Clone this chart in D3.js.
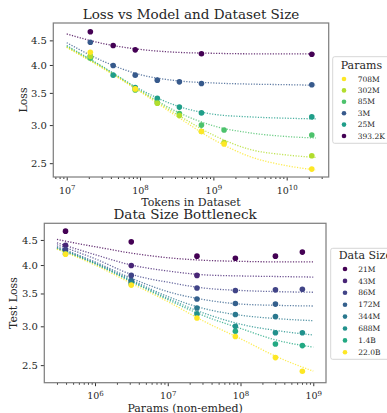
<!DOCTYPE html>
<html>
<head>
<meta charset="utf-8">
<script src="https://cdn.jsdelivr.net/npm/d3@7"></script>
<style>
  body { margin: 0; background: #fff; }
  svg { font-family: "DejaVu Serif", serif; }
</style>
</head>
<body>
<script>
// model sizes (non-embedding params) and dataset sizes (tokens)
const paramLabels = ['393.2K', '3M', '25M', '85M', '302M', '708M'];
const paramCounts = [393.2e3, 3.15e6, 25.2e6, 85e6, 302e6, 708e6];
const dataLabels = ['21M', '43M', '86M', '172M', '344M', '688M', '1.4B', '22.0B'];
const dataTokens = [21e6, 43e6, 86e6, 172e6, 344e6, 688e6, 1.4e9, 22e9];

// measured test loss: one row per dataset size, one column per model size (null = no run)
const lossRows = [
  [4.69, 4.46, 4.17, 4.13, 4.17, 4.25],
  [4.39, 3.99, 3.81, null, null, null],
  [4.30, 3.81, 3.59, 3.55, 3.56, 3.57],
  [null, 3.72, 3.41, 3.34, 3.33, null],
  [null, 3.69, 3.27, 3.17, 3.14, null],
  [4.22, 3.66, 3.18, 3.00, 2.91, 2.91],
  [null, null, null, 2.93, 2.76, 2.74],
  [4.21, 3.64, 3.12, 2.86, 2.59, 2.43]
];

// fitted curves, top panel: loss vs tokens, one row per model size
const fitTokens = [1e7, 3.16e7, 1e8, 3.16e8, 1e9, 3.16e9, 1e10, 2.5e10];
const fitLossByParams = [
  [4.64, 4.43, 4.31, 4.25, 4.23, 4.22, 4.22, 4.22],
  [4.45, 4.07, 3.82, 3.71, 3.67, 3.65, 3.64, 3.63],
  [4.39, 3.96, 3.56, 3.29, 3.16, 3.12, 3.10, 3.09],
  [4.37, 3.95, 3.54, 3.20, 2.99, 2.89, 2.84, 2.82],
  [4.36, 3.94, 3.53, 3.16, 2.86, 2.67, 2.60, 2.57],
  [4.35, 3.93, 3.52, 3.13, 2.80, 2.58, 2.47, 2.42]
];

// fitted curves, bottom panel: loss vs params, one row per dataset size
const fitParams = [3e5, 1e6, 3.16e6, 1e7, 3.16e7, 1e8, 3.16e8, 1e9];
const fitLossByData = [
  [4.51, 4.36, 4.23, 4.14, 4.09, 4.07, 4.06, 4.06],
  [4.44, 4.20, 4.00, 3.89, 3.82, 3.80, 3.79, 3.78],
  [4.40, 4.12, 3.83, 3.69, 3.59, 3.55, 3.53, 3.52],
  [4.36, 4.06, 3.76, 3.53, 3.40, 3.33, 3.31, 3.30],
  [4.34, 4.04, 3.73, 3.45, 3.26, 3.16, 3.11, 3.08],
  [4.33, 4.03, 3.71, 3.42, 3.19, 3.03, 2.94, 2.88],
  [4.32, 4.02, 3.70, 3.40, 3.15, 2.97, 2.81, 2.72],
  [4.31, 4.00, 3.67, 3.37, 3.07, 2.83, 2.60, 2.43]
];

const lossTicks = [2.5, 3.0, 3.5, 4.0, 4.5];
const tokenTicks = [1e7, 1e8, 1e9, 1e10];
const paramTicks = [1e6, 1e7, 1e8, 1e9];
const topLegendOrder = ['708M', '302M', '85M', '3M', '25M', '393.2K'];

const svg = d3.select('body').append('svg')
  .attr('width', 387)
  .attr('height', 413);

const paramColor = d3.scaleSequentialLog(d3.interpolateViridis)
  .domain([paramCounts[0], paramCounts[paramCounts.length - 1]]);
const dataColor = d3.scaleSequentialLog(d3.interpolateViridis)
  .domain([dataTokens[0], dataTokens[dataTokens.length - 1]]);

function drawPanel(o) {
  const x = d3.scaleLog().domain(o.xDomain).range([o.left, o.right]);
  const y = d3.scaleLog().domain(o.yDomain).range([o.bottom, o.top]);
  const g = svg.append('g');

  // minor ticks on the log x axis
  const minor = [];
  const e0 = Math.floor(Math.log10(o.xDomain[0]));
  const e1 = Math.ceil(Math.log10(o.xDomain[1]));
  for (let e = e0; e <= e1; e++) {
    for (let m = 2; m < 10; m++) {
      const v = m * Math.pow(10, e);
      if (v > o.xDomain[0] && v < o.xDomain[1]) minor.push(v);
    }
  }
  const minorAxis = g.append('g')
    .attr('transform', `translate(0,${o.bottom})`)
    .call(d3.axisBottom(x).tickValues(minor).tickSize(2).tickFormat(''));

  const xAxis = g.append('g')
    .attr('transform', `translate(0,${o.bottom})`)
    .call(d3.axisBottom(x).tickValues(o.xTicks).tickSize(3.5).tickPadding(6.5));
  xAxis.selectAll('.tick text')
    .attr('font-size', '9.5px')
    .each(function(d) {
      const t = d3.select(this);
      t.text(null);
      t.append('tspan').text('10');
      t.append('tspan').attr('dy', '-0.55em').attr('font-size', '7px')
        .text(Math.round(Math.log10(d)));
    });

  const yAxis = g.append('g')
    .attr('transform', `translate(${o.left},0)`)
    .call(d3.axisLeft(y).tickValues(lossTicks).tickSize(3.5).tickPadding(3)
      .tickFormat(d3.format('.1f')));
  yAxis.selectAll('.tick text').attr('font-size', '10px');

  [minorAxis, xAxis, yAxis].forEach(a => {
    a.select('.domain').remove();
    a.selectAll('line').attr('stroke', '#333');
    a.selectAll('text').attr('fill', '#262626').attr('font-family', '"DejaVu Serif", serif');
  });

  g.append('rect')
    .attr('x', o.left).attr('y', o.top)
    .attr('width', o.right - o.left).attr('height', o.bottom - o.top)
    .attr('fill', 'none')
    .attr('stroke', '#808080')
    .attr('stroke-width', 1.25);

  // dotted fit curves
  const line = d3.line()
    .x((d, i) => x(o.fitX[i]))
    .y(d => y(d))
    .curve(d3.curveMonotoneX);
  g.append('g').selectAll('path')
    .data(o.fitRows)
    .enter().append('path')
    .attr('d', line)
    .attr('fill', 'none')
    .attr('stroke', (d, i) => o.color(o.seriesValues[i]))
    .attr('stroke-width', 1.3)
    .attr('stroke-dasharray', '1.2,1.5')
    .attr('opacity', 0.8);

  // measured points
  g.append('g').selectAll('circle')
    .data(o.points)
    .enter().append('circle')
    .attr('cx', d => x(d.x))
    .attr('cy', d => y(d.loss))
    .attr('r', 2.8)
    .attr('fill', d => o.color(d.series));

  g.append('text')
    .attr('x', (o.left + o.right) / 2).attr('y', o.titleY)
    .attr('text-anchor', 'middle')
    .attr('font-size', '13.5px')
    .attr('fill', '#262626')
    .text(o.title);
  g.append('text')
    .attr('x', (o.left + o.right) / 2).attr('y', o.xLabelY)
    .attr('text-anchor', 'middle')
    .attr('font-size', '11px')
    .attr('fill', '#262626')
    .text(o.xLabel);
  g.append('text')
    .attr('transform', `translate(${o.yLabelX},${(o.top + o.bottom) / 2}) rotate(-90)`)
    .attr('text-anchor', 'middle')
    .attr('font-size', '11px')
    .attr('fill', '#262626')
    .text(o.yLabel);

  // legend
  const lg = g.append('g');
  lg.append('rect')
    .attr('x', o.legend.x).attr('y', o.legend.y)
    .attr('width', 70).attr('height', o.legend.h)
    .attr('rx', 2)
    .attr('fill', '#fff')
    .attr('stroke', '#cccccc')
    .attr('stroke-width', 0.8);
  lg.append('text')
    .attr('x', o.legend.x + 8).attr('y', o.legend.titleY)
    .attr('font-size', '11px')
    .attr('fill', '#262626')
    .text(o.legend.title);
  const items = lg.selectAll('g.item')
    .data(o.legend.items)
    .enter().append('g')
    .attr('class', 'item')
    .attr('transform', (d, i) => `translate(${o.legend.x},${o.legend.firstY + i * o.legend.step})`);
  items.append('circle')
    .attr('cx', o.legend.markerX).attr('cy', 0).attr('r', 2.3)
    .attr('fill', d => o.color(d.value));
  items.append('text')
    .attr('x', o.legend.textX).attr('y', 0)
    .attr('dy', '0.35em')
    .attr('font-size', '7.5px')
    .attr('fill', '#262626')
    .text(d => d.label);
}

// top panel: loss vs dataset size, coloured by model size
const topPoints = [];
paramCounts.forEach((p, i) => {
  dataTokens.forEach((t, j) => {
    if (lossRows[j][i] != null) topPoints.push({ x: t, loss: lossRows[j][i], series: p });
  });
});

drawPanel({
  left: 53.3, right: 328.7, top: 23, bottom: 177,
  xDomain: [Math.pow(10, 6.817), Math.pow(10, 10.573)],
  yDomain: [2.34, 4.89],
  xTicks: tokenTicks,
  fitX: fitTokens,
  fitRows: fitLossByParams,
  seriesValues: paramCounts,
  color: paramColor,
  points: topPoints,
  title: 'Loss vs Model and Dataset Size',
  titleY: 18.5,
  xLabel: 'Tokens in Dataset',
  xLabelY: 205.5,
  yLabel: 'Loss',
  yLabelX: 27,
  legend: {
    x: 332.7, y: 56.7, h: 86.6,
    title: 'Params', titleY: 69,
    firstY: 79, step: 11.4,
    markerX: 11.3, textX: 25,
    items: topLegendOrder.map(l => ({ label: l, value: paramCounts[paramLabels.indexOf(l)] }))
  }
});

// bottom panel: loss vs model size, coloured by dataset size
const bottomPoints = [];
dataTokens.forEach((t, j) => {
  paramCounts.forEach((p, i) => {
    if (lossRows[j][i] != null) bottomPoints.push({ x: p, loss: lossRows[j][i], series: t });
  });
});

drawPanel({
  left: 44.3, right: 326, top: 223.3, bottom: 382.7,
  xDomain: [Math.pow(10, 5.303), Math.pow(10, 9.175)],
  yDomain: [2.302, 4.866],
  xTicks: paramTicks,
  fitX: fitParams,
  fitRows: fitLossByData,
  seriesValues: dataTokens,
  color: dataColor,
  points: bottomPoints,
  title: 'Data Size Bottleneck',
  titleY: 219,
  xLabel: 'Params (non-embed)',
  xLabelY: 411.5,
  yLabel: 'Test Loss',
  yLabelX: 17,
  legend: {
    x: 330.7, y: 248.3, h: 111,
    title: 'Data Size', titleY: 258.5,
    firstY: 269, step: 11.9,
    markerX: 14.3, textX: 27.6,
    items: dataLabels.map((l, j) => ({ label: l, value: dataTokens[j] }))
  }
});
</script>
</body>
</html>
